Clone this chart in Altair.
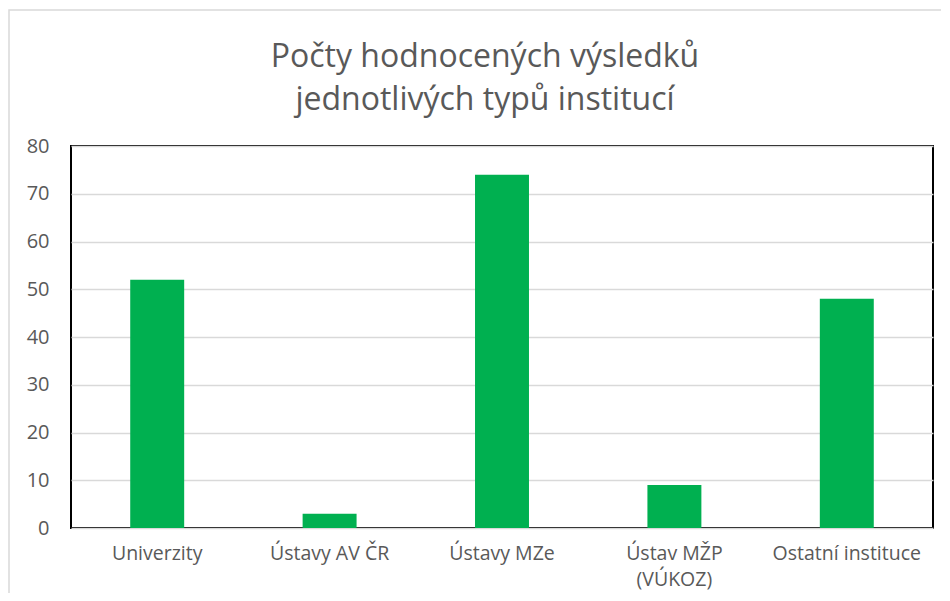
import altair as alt
import pandas as pd

categories = ["Univerzity", "Ústavy AV ČR", "Ústavy MZe", "Ústav MŽP\n(VÚKOZ)", "Ostatní instituce"]
values = [52, 3, 74, 9, 48]

df = pd.DataFrame({"kat": categories, "pocet": values})

FONT = "Open Sans"
GRAY = "#595959"

frame = alt.Chart(pd.DataFrame({"a": [0]})).mark_rect(
    fill=None, stroke="#d9d9d9", strokeWidth=1.5
).encode(
    x=alt.value(-62), x2=alt.value(920), y=alt.value(-136), y2=alt.value(620)
)

bars = alt.Chart(df).mark_bar(color="#00b050").encode(
    x=alt.X("kat:N", sort=categories, title=None,
            scale=alt.Scale(paddingInner=0.687, paddingOuter=0.3435),
            axis=alt.Axis(labelAngle=0, labelFont=FONT, labelFontSize=19.5,
                          labelColor=GRAY, labelPadding=16, ticks=False,
                          domain=False, labelExpr="split(datum.label, '\\n')",
                          labelLineHeight=26)),
    y=alt.Y("pocet:Q", title=None,
            scale=alt.Scale(domain=[0, 80]),
            axis=alt.Axis(values=list(range(0, 81, 10)), labelFont=FONT,
                          labelFontSize=20, labelColor=GRAY, labelPadding=22,
                          ticks=False, domain=False, gridColor="#d9d9d9",
                          gridWidth=1.5)),
)

chart = alt.layer(frame, bars).properties(
    width=862,
    height=382,
    autosize=alt.AutoSizeParams(type="none"),
    padding={"left": 63, "top": 138, "right": 8, "bottom": 65},
    title=alt.TitleParams(
        text=["Počty hodnocených výsledků", "jednotlivých typů institucí"],
        font=FONT, fontSize=32, fontWeight="normal", color=GRAY,
        anchor="middle", lineHeight=43, offset=-108, dx=-17, frame="group",
    ),
).configure_view(stroke="black", strokeWidth=2)

chart.save("out.html", embed_options={"renderer": "svg", "actions": False})
